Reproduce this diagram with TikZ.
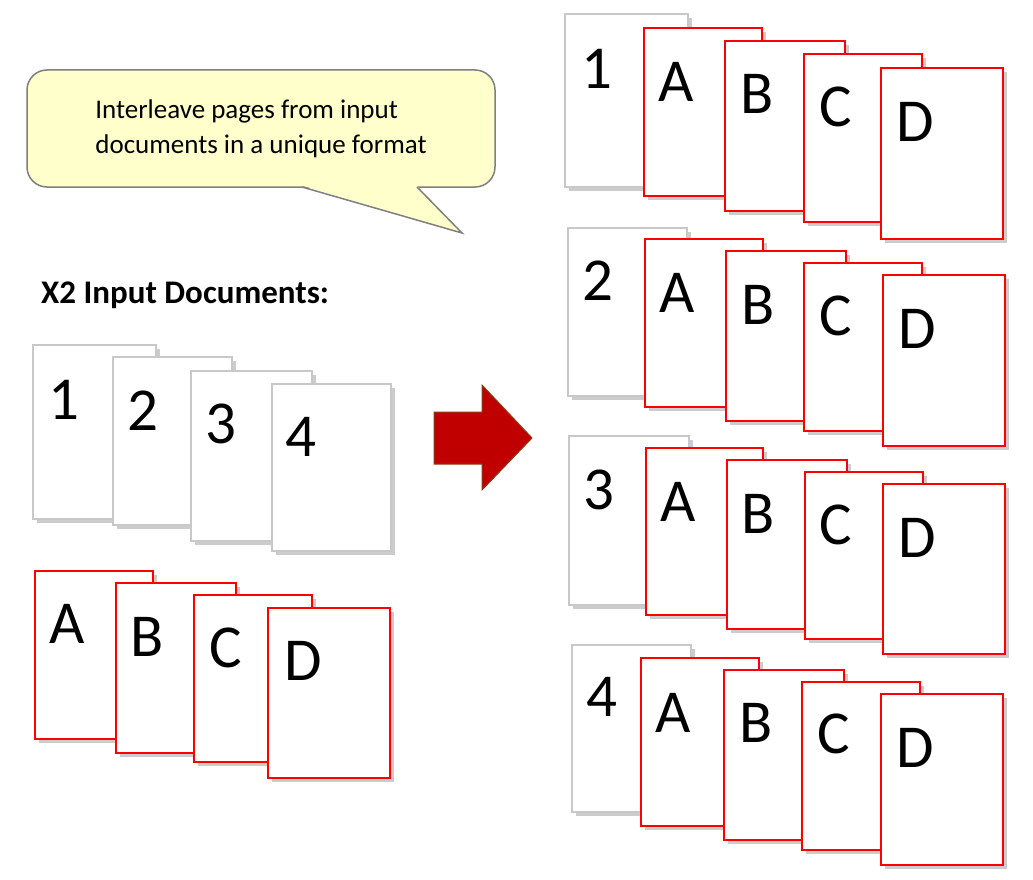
\documentclass[tikz,border=0pt]{standalone}
\usepackage{fontspec}
\setmainfont{Carlito}
\usetikzlibrary{shadows}
\definecolor{calloutfill}{RGB}{255,255,204}
\definecolor{calloutline}{RGB}{127,127,127}
\definecolor{pagegray}{RGB}{200,200,200}
\definecolor{pagered}{RGB}{255,0,0}
\definecolor{arrowred}{RGB}{192,0,0}
\definecolor{arrowline}{RGB}{140,60,20}
\tikzset{
  pagebase/.style={rectangle, inner sep=0pt, outer sep=0pt, fill=white,
    drop shadow={shadow xshift=4pt, shadow yshift=-4pt, opacity=0.2, fill=black}},
  pagew/.style={pagebase, draw=pagegray, line width=1.6pt},
  pager/.style={pagebase, draw=pagered, line width=1.8pt},
  lbl/.style={inner sep=0pt, outer sep=0pt, font=\fontsize{61}{61}\selectfont},
  callout/.style={rectangle, rounded corners=20pt, fill=calloutfill, draw=calloutline,
    line width=1.5pt, align=left, inner sep=0pt,
    font=\fontsize{27}{35}\selectfont},
  heading/.style={inner sep=0pt, anchor=base west, font=\fontsize{33}{33}\selectfont\bfseries},
  bigarrow/.style={fill=arrowred, draw=arrowline, line width=1pt}
}
\newcommand\pg[9]{%
  \node[#2, anchor=north west, minimum width={(#5-#3)*1pt}, minimum height={(#6-#4)*1pt}] (#1) at (#3,#4) {};
  \node[lbl] (#1t) at (#7,#8) {#9};}
\begin{document}
\begin{tikzpicture}[x=1pt, y=-1pt]
\useasboundingbox[fill=white] (0,0) rectangle (1033,880);

% callout
\node[callout, minimum width=468pt, minimum height=117pt] (note) at (261,128.5)
  {Interleave pages from input\\documents in a unique format};
\coordinate (tailL) at (302,187);
\coordinate (tailR) at (417,187);
\coordinate (tip) at (462,233);
\fill[calloutfill] ([yshift=1.5pt]tailL) -- (tip) -- ([yshift=1.5pt]tailR) -- cycle;
\draw[calloutline, line width=1.5pt, line join=miter] (tailL) -- (tip) -- (tailR);

% heading
\node[heading] (head) at (41,303) {X2 Input Documents:};

% left input documents
\pg{w1}{pagew}{33}{345}{156}{519}{64}{400}{1}
\pg{w2}{pagew}{113}{357}{232}{525}{143}{411}{2}
\pg{w3}{pagew}{191}{371}{312}{541}{221}{424}{3}
\pg{w4}{pagew}{272}{384}{391}{551}{301}{437}{4}

\pg{rA}{pager}{35}{571}{153}{739}{67.5}{624}{A}
\pg{rB}{pager}{116}{583}{236}{753}{147.5}{637}{B}
\pg{rC}{pager}{194}{595}{312}{762}{226}{648}{C}
\pg{rD}{pager}{268}{608}{390}{778}{303}{661}{D}

% big arrow
\coordinate (a1) at (434,412);
\coordinate (a2) at (482,412);
\coordinate (a3) at (482,385);
\coordinate (a4) at (532,438);
\coordinate (a5) at (482,490);
\coordinate (a6) at (482,464);
\coordinate (a7) at (434,464);
\draw[bigarrow] (a1) -- (a2) -- (a3) -- (a4) -- (a5) -- (a6) -- (a7) -- cycle;

% output group 1
\pg{g1w}{pagew}{565}{14}{688}{187}{597}{69}{1}
\pg{g1A}{pager}{644}{28}{762}{196}{676}{82}{A}
\pg{g1B}{pager}{725}{41}{845}{211}{757}{94}{B}
\pg{g1C}{pager}{804}{54}{922}{222}{836}{107}{C}
\pg{g1D}{pager}{881}{68}{1003}{239}{915}{122}{D}

% output group 2
\pg{g2w}{pagew}{568}{228}{687}{396}{598}{281}{2}
\pg{g2A}{pager}{645}{239}{763}{407}{677.5}{293}{A}
\pg{g2B}{pager}{726}{251}{846}{421}{758}{305}{B}
\pg{g2C}{pager}{804}{263}{922}{431}{836}{316}{C}
\pg{g2D}{pager}{883}{275}{1005}{446}{917.5}{329}{D}

% output group 3
\pg{g3w}{pagew}{569}{436}{689}{605}{599}{490}{3}
\pg{g3A}{pager}{646}{448}{763}{615}{678}{502}{A}
\pg{g3B}{pager}{727}{460}{847}{629}{758}{514}{B}
\pg{g3C}{pager}{805}{472}{923}{639}{836}{525}{C}
\pg{g3D}{pager}{883}{484}{1005}{654}{917.5}{538}{D}

% output group 4
\pg{g4w}{pagew}{572}{645}{691}{812}{602}{697}{4}
\pg{g4A}{pager}{641}{658}{759}{826}{673}{712.5}{A}
\pg{g4B}{pager}{724}{670}{844}{840}{756}{723}{B}
\pg{g4C}{pager}{802}{682}{920}{850}{834}{734}{C}
\pg{g4D}{pager}{881}{694}{1003}{865}{915}{748}{D}
\end{tikzpicture}
\end{document}
